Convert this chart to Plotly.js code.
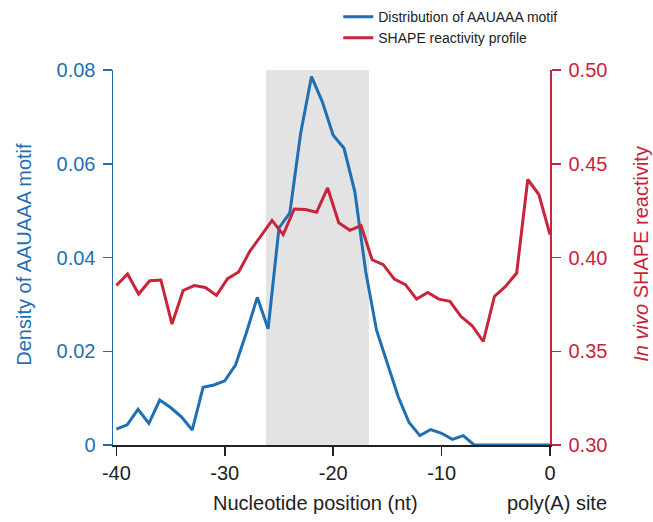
<!DOCTYPE html>
<html>
<head>
<meta charset="utf-8">
<script src="https://cdn.plot.ly/plotly-3.0.1.min.js"></script>
<style>html,body{margin:0;padding:0;background:#fff;}#chart{width:653px;height:522px;}</style>
</head>
<body>
<div id="chart"></div>
<script>
// Nucleotide positions relative to the poly(A) site
const motifPositions = [-40,-39,-38,-37,-36,-35,-34,-33,-32,-31,-30,-29,-28,-27,-26,-25,-24,-23,-22,-21,-20,-19,-18,-17,-16,-15,-14,-13,-12,-11,-10,-9,-8,-7,-6,-5,-4,-3,-2,-1,0];
// Density of AAUAAA motif (left axis)
const motifDensity = [0.0034,0.0043,0.0076,0.0046,0.0096,0.0080,0.0060,0.0032,0.0123,0.0128,0.0137,0.0171,0.0240,0.0315,0.0248,0.0463,0.0495,0.0665,0.0786,0.0732,0.0661,0.0633,0.0540,0.0370,0.0245,0.0175,0.0103,0.0048,0.0020,0.0033,0.0025,0.0012,0.0020,0,0,0,0,0,0,0,0];
// SHAPE profile positions and in vivo SHAPE reactivity (right axis)
const shapePositions = [-40,-39,-38,-37,-36,-35,-34,-33,-32,-31,-30,-29,-28,-27,-26,-25,-24,-23,-22,-21,-20,-19,-18,-17,-16,-15,-14,-13,-12,-11,-10,-9,-8,-7,-6,-5,-4,-3,-2,-1];
const shapeReactivity = [0.3851,0.3912,0.3805,0.3876,0.3880,0.3645,0.3824,0.3850,0.3840,0.3798,0.3887,0.3923,0.4033,0.4113,0.4198,0.4122,0.4259,0.4256,0.4241,0.4371,0.4185,0.4145,0.4170,0.3988,0.3962,0.3885,0.3855,0.3778,0.3814,0.3778,0.3766,0.3685,0.3636,0.3552,0.3792,0.3846,0.3917,0.4416,0.4336,0.4122];
// Highlighted region
const highlightRange = [-26.2, -16.7];
// Tick labels
const xTickVals = [-40,-30,-20,-10,0];
const xTickText = ['-40','-30','-20','-10','0'];
const leftTickVals = [0,0.02,0.04,0.06,0.08];
const leftTickText = ['0','0.02','0.04','0.06','0.08'];
const rightTickVals = [0.30,0.35,0.40,0.45,0.50];
const rightTickText = ['0.30','0.35','0.40','0.45','0.50'];

const BLUE = '#1f6fb2';
const RED = '#c8243c';
const FONT = 'Liberation Sans, Arial, Helvetica, sans-serif';

const traces = [
  {x: motifPositions, y: motifDensity, type: 'scatter', mode: 'lines',
   name: 'Distribution of AAUAAA motif', line: {color: BLUE, width: 3},
   xaxis: 'x', yaxis: 'y'},
  {x: shapePositions, y: shapeReactivity, type: 'scatter', mode: 'lines',
   name: 'SHAPE reactivity profile', line: {color: RED, width: 3},
   xaxis: 'x2', yaxis: 'y2'}
];

const layout = {
  width: 653, height: 522,
  margin: {l: 113, r: 103, t: 70, b: 77, autoexpand: false},
  paper_bgcolor: '#fff', plot_bgcolor: 'rgba(0,0,0,0)',
  font: {family: FONT, size: 20, color: '#222'},
  showlegend: true,
  legend: {xref: 'container', yref: 'container', x: 0.518, y: 0.998, xanchor: 'left', yanchor: 'top',
           font: {family: FONT, size: 14, color: '#222'},
           bgcolor: 'rgba(0,0,0,0)', tracegroupgap: 0, itemwidth: 30},
  xaxis: {range: [-40.31, 0], tickvals: xTickVals, ticktext: xTickText,
          showgrid: false, zeroline: false, showline: true, linecolor: '#222', linewidth: 1.5,
          ticks: 'outside', ticklen: 9, tickwidth: 1.5, tickcolor: '#222',
          tickfont: {size: 20, color: '#222'}, layer: 'below traces', fixedrange: true},
  xaxis2: {range: [-40.306, -1], overlaying: 'x', visible: false, anchor: 'y2', fixedrange: true},
  yaxis: {range: [0, 0.08], tickvals: leftTickVals, ticktext: leftTickText,
          showgrid: false, zeroline: false, showline: true, linecolor: BLUE, linewidth: 1.5,
          ticks: 'outside', ticklen: 9, tickwidth: 1.5, tickcolor: BLUE, ticklabelstandoff: 3,
          tickfont: {size: 20, color: BLUE}, fixedrange: true},
  yaxis2: {range: [0.30, 0.50], tickvals: rightTickVals, ticktext: rightTickText,
           overlaying: 'y', side: 'right', anchor: 'x2',
           showgrid: false, zeroline: false, showline: true, linecolor: RED, linewidth: 1.5,
           ticks: 'outside', ticklen: 9, tickwidth: 1.5, tickcolor: RED, ticklabelstandoff: 4,
           tickfont: {size: 20, color: RED}, fixedrange: true},
  shapes: [{type: 'rect', xref: 'x', yref: 'paper', x0: highlightRange[0], x1: highlightRange[1],
            y0: 0, y1: 1, fillcolor: '#e3e3e3', line: {width: 0}, layer: 'below'}],
  annotations: [
    {text: 'Nucleotide position (nt)', xref: 'paper', yref: 'paper', x: 0.4645, y: -0.155,
     xanchor: 'center', yanchor: 'middle', showarrow: false, font: {size: 20, color: '#222'}},
    {text: 'poly(A) site', xref: 'paper', yref: 'paper', x: 1.016, y: -0.155,
     xanchor: 'center', yanchor: 'middle', showarrow: false, font: {size: 20, color: '#222'}},
    {text: 'Density of AAUAAA motif', xref: 'paper', yref: 'paper', x: -0.2037, y: 0.51,
     xanchor: 'center', yanchor: 'middle', textangle: -90, showarrow: false, font: {size: 20, color: BLUE}},
    {text: '<i>In vivo</i> SHAPE reactivity', xref: 'paper', yref: 'paper', x: 1.2082, y: 0.51,
     xanchor: 'center', yanchor: 'middle', textangle: -90, showarrow: false, font: {size: 20, color: RED}}
  ]
};

Plotly.newPlot('chart', traces, layout, {displayModeBar: false, staticPlot: true});
</script>
</body>
</html>
